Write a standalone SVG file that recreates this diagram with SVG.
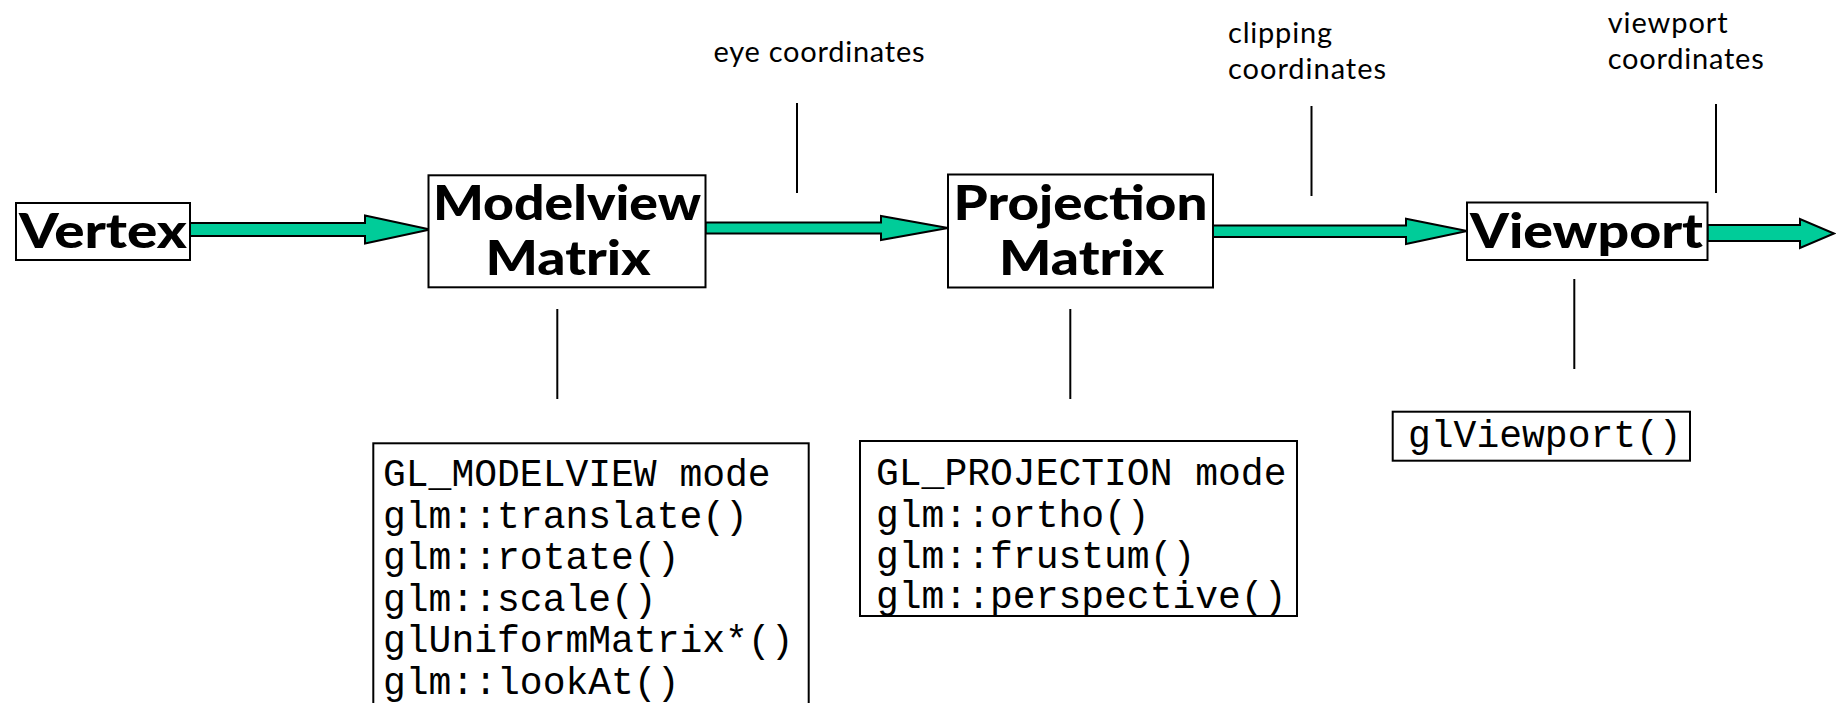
<svg xmlns="http://www.w3.org/2000/svg" width="1836" height="703" viewBox="0 0 1836 703">
  <style>
    .box { fill: #ffffff; stroke: #000000; stroke-width: 2; }
    .title { font-family: Lato, "Open Sans", "Liberation Sans", sans-serif; font-weight: 900; font-size: 48px; fill: #000000; text-anchor: middle; }
    .label { font-family: Lato, "Open Sans", "Liberation Sans", sans-serif; font-size: 29px; fill: #000000; }
    .code { font-family: "Liberation Mono", "DejaVu Sans Mono", monospace; font-size: 38px; fill: #000000; }
    .arrow { fill: #00cc99; stroke: #000000; stroke-width: 2; stroke-linejoin: miter; }
    .leader { stroke: #000000; stroke-width: 2; fill: none; }
  </style>
  <rect width="1836" height="703" fill="#ffffff"/>

  <!-- pipeline arrows and leader lines -->
  <g id="connectors">
    <path class="arrow" d="M190,223 H365 V215.5 L430,229.5 L365,243.5 V236 H190 Z"/>
    <path class="arrow" d="M705.5,222.5 H881 V216 L948,228 L881,240 V233.5 H705.5 Z"/>
    <path class="arrow" d="M1213,225.5 H1406 V218.8 L1467,231 L1406,244 V237 H1213 Z"/>
    <path class="arrow" d="M1707.5,225 H1800 V219 L1834,233.5 L1800,248 V241 H1707.5 Z"/>

    <line class="leader" x1="797" y1="103" x2="797" y2="193"/>
    <line class="leader" x1="1311.5" y1="106" x2="1311.5" y2="196"/>
    <line class="leader" x1="1716" y1="104" x2="1716" y2="193"/>

    <line class="leader" x1="557.3" y1="309" x2="557.3" y2="399"/>
    <line class="leader" x1="1070.3" y1="309" x2="1070.3" y2="399"/>
    <line class="leader" x1="1574.3" y1="279" x2="1574.3" y2="369"/>
  </g>

  <g id="vertex">
    <rect class="box" x="16" y="203" width="174" height="57"/>
    <text class="title" x="103" y="248" textLength="168" lengthAdjust="spacingAndGlyphs">Vertex</text>
  </g>

  <g id="modelview-matrix">
    <rect class="box" x="428.5" y="175.3" width="277" height="112"/>
    <text class="title" x="567" y="220" textLength="268" lengthAdjust="spacingAndGlyphs">Modelview</text>
    <text class="title" x="568" y="275" textLength="165" lengthAdjust="spacingAndGlyphs">Matrix</text>
  </g>

  <g id="projection-matrix">
    <rect class="box" x="948" y="174.5" width="265" height="113"/>
    <text class="title" x="1080.5" y="220" textLength="254" lengthAdjust="spacingAndGlyphs">Projection</text>
    <text class="title" x="1081.5" y="275" textLength="165" lengthAdjust="spacingAndGlyphs">Matrix</text>
  </g>

  <g id="viewport">
    <rect class="box" x="1467" y="202.5" width="240.5" height="57.5"/>
    <text class="title" x="1586.5" y="248" textLength="233" lengthAdjust="spacingAndGlyphs">Viewport</text>
  </g>

  <g id="eye-coordinates">
    <text class="label" x="713.5" y="62" textLength="211">eye coordinates</text>
  </g>

  <g id="clipping-coordinates">
    <text class="label" x="1228" y="43" textLength="104">clipping</text>
    <text class="label" x="1228" y="79" textLength="158">coordinates</text>
  </g>

  <g id="viewport-coordinates">
    <text class="label" x="1607.7" y="33" textLength="120">viewport</text>
    <text class="label" x="1607.7" y="69" textLength="156">coordinates</text>
  </g>

  <g id="modelview-calls">
    <rect class="box" x="373.3" y="443.3" width="435.4" height="275"/>
    <text class="code" x="383" y="486">GL_MODELVIEW mode</text>
    <text class="code" x="383" y="527.6">glm::translate()</text>
    <text class="code" x="383" y="569.2">glm::rotate()</text>
    <text class="code" x="383" y="610.8">glm::scale()</text>
    <text class="code" x="383" y="652.4">glUniformMatrix*()</text>
    <text class="code" x="383" y="694">glm::lookAt()</text>
  </g>

  <g id="projection-calls">
    <rect class="box" x="860" y="441" width="437" height="175"/>
    <text class="code" x="876" y="485">GL_PROJECTION mode</text>
    <text class="code" x="876" y="526.5">glm::ortho()</text>
    <text class="code" x="876" y="567.5">glm::frustum()</text>
    <text class="code" x="876" y="608.3">glm::perspective()</text>
  </g>

  <g id="viewport-call">
    <rect class="box" x="1392.7" y="411.7" width="297.3" height="49"/>
    <text class="code" x="1408" y="447">glViewport()</text>
  </g>
</svg>
